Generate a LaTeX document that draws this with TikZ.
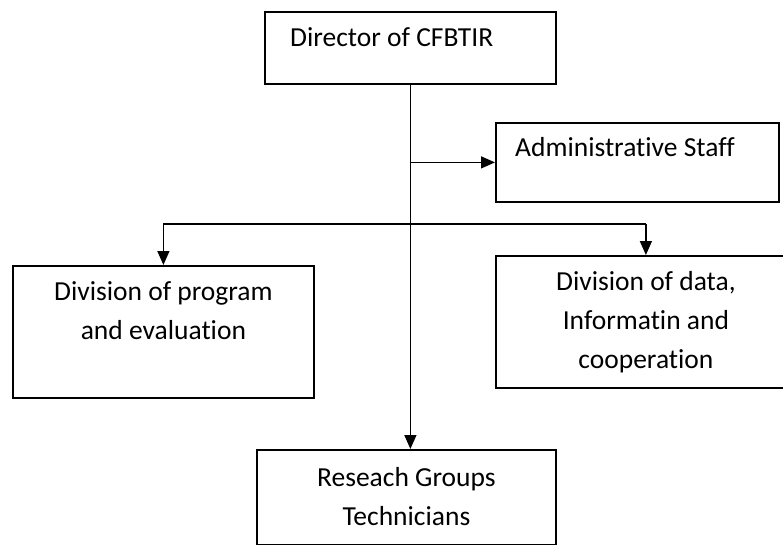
\documentclass[tikz,border=0pt]{standalone}
\usepackage{fontspec}
\setmainfont[Ligatures=NoCommon]{Carlito}
\usetikzlibrary{arrows.meta}

\begin{document}
\begin{tikzpicture}[x=1pt,y=-1pt]
  \tikzset{unit/.style n args={2}{draw,line width=1.8pt,minimum width=#1,minimum height=#2,anchor=north west,inner sep=0pt},
           lbl/.style={anchor=base,align=center,font=\fontsize{27.5}{39}\selectfont,inner sep=0pt},
           link/.style={line width=1.4pt,-{Triangle[width=12pt,length=14pt]}}}
  \clip (0,0) rectangle (783,545);
  % boxes
  \node [unit={291pt}{72pt}] (dir) at (264,11) {};
  \node [unit={283pt}{79pt}] (adm) at (495,122) {};
  \node [unit={301pt}{132pt}] (prog) at (12,265) {};
  \node [unit={300pt}{132pt}] (data) at (495,255) {};
  \node [unit={299pt}{95pt}] (res) at (256,449) {};
  % texts (base = last line)
  \node [lbl,anchor=base west] (dir text) at ([xshift=26pt,yshift=-36pt]dir.north west) {Director of CFBTIR};
  \node [lbl,anchor=base west] (adm text) at ([xshift=20pt,yshift=-35pt]adm.north west) {Administrative Staff};
  \node [lbl] (prog text) at ([yshift=-74pt]prog.north) {Division of program\\and evaluation};
  \node [lbl] (data text) at ([yshift=-113pt]data.north) {Division of data,\\Informatin and\\cooperation};
  \node [lbl] (res text) at ([yshift=-76pt]res.north) {Reseach Groups\\Technicians};
  % connectors
  \coordinate (split) at (dir.south |- 0,224);
  \draw [link] (dir.south) -- (dir.south |- res.north);
  \draw [link] (dir.south |- adm.west) -- (adm.west);
  \draw [line width=1.4pt] (prog.north |- split) -- (data.north |- split);
  \draw [link] (prog.north |- split) -- (prog.north);
  \draw [link] (data.north |- split) -- (data.north);
\end{tikzpicture}
\end{document}
